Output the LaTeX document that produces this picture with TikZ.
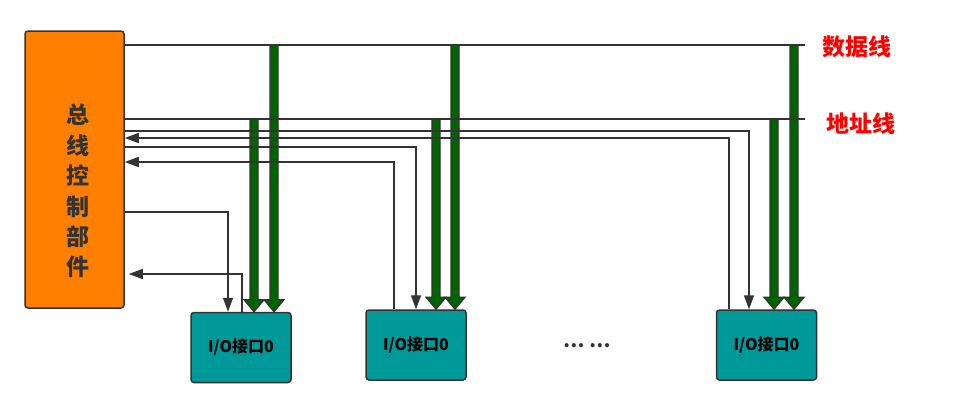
\documentclass[tikz,border=0pt]{standalone}
\usepackage{fontspec}
\setmainfont{Noto Sans CJK SC}
\usepackage{xcolor}
\usetikzlibrary{arrows.meta,calc}
\definecolor{cLine}{RGB}{51,51,51}
\definecolor{cCtrl}{RGB}{255,128,0}
\definecolor{cIO}{RGB}{0,153,153}
\definecolor{cBus}{RGB}{0,100,0}
\definecolor{cLabel}{RGB}{255,0,0}

\begin{document}
\begin{tikzpicture}[x=1pt,y=-1pt,font=\bfseries,
  sig/.style={cLine,line width=1.5pt},
  sigarr/.style={sig,-{Triangle[length=14pt,width=10pt]}},
  bus/.style={fill=cBus,draw=cLine,line width=1.2pt,line join=miter},
  iobox/.style={draw=cLine,line width=1.5pt,fill=cIO,rounded corners=3pt,minimum width=100pt,minimum height=70pt,inner sep=0pt,font=\fontsize{16}{18}\selectfont\bfseries},
  buslabel/.style={text=cLabel,font=\fontsize{23}{26}\selectfont\bfseries}]
\useasboundingbox (0,0) rectangle (965,408);
\node[draw=cLine,line width=1.5pt,fill=cCtrl,rounded corners=3pt,minimum width=99pt,minimum height=277pt] (ctrl) at (74.5,169.5) {};
\node[align=center,text=cLine,font=\fontsize{23}{30.4}\selectfont\bfseries] (ctrltext) at (78,191) {总\\线\\控\\制\\部\\件};
\node[iobox] (io1) at (241,347.5) {I/O接口0};
\node[iobox] (io2) at (416,345) {I/O接口0};
\node[iobox] (io3) at (766.5,345) {I/O接口0};
\node[font=\fontsize{19}{20}\selectfont\bfseries,text=cLine] (dots) at (587,346) {… …};
\coordinate (dataend) at (805,45);
\coordinate (addrend) at (805,119);
\foreach \n/\yy in {w3/131,r3/138,w2/147,r2/162,w1/212,r1/274} \coordinate (\n) at (0,\yy);
\foreach \io/\dx/\top in {io1/13/addrend,io1/33/dataend,io2/20/addrend,io2/39/dataend,io3/7.5/addrend,io3/27.5/dataend}
  \path[bus] let \p1=($(\io.north)+(\dx,0)$), \p2=(\top) in (\x1-4pt,\y2) -- (\x1+4pt,\y2) -- (\x1+4pt,\y1+12pt) -- (\x1+10pt,\y1+12pt) -- (\x1,\y1) -- (\x1-10pt,\y1+12pt) -- (\x1-4pt,\y1+12pt) -- cycle;
\draw[sig] (ctrl.east |- dataend) -- (dataend);
\draw[sig] (ctrl.east |- addrend) -- (addrend);
\draw[sigarr] (ctrl.east |- w3) -| ($(io3.north)+(-17.5,0)$);
\draw[sigarr] ($(io3.north)+(-37.5,0)$) |- (ctrl.east |- r3);
\draw[sigarr] (ctrl.east |- w2) -| (io2.north);
\draw[sigarr] ($(io2.north)+(-22,0)$) |- (ctrl.east |- r2);
\draw[sigarr] (ctrl.east |- w1) -| ($(io1.north)+(-13,0)$);
\draw[sigarr] ($(io1.north)+(1,0)$) |- ($(ctrl.east |- r1)+(4,0)$);
\node[buslabel] (datalbl) at (857,47) {数据线};
\node[buslabel] (addrlbl) at (861,124) {地址线};
\end{tikzpicture}
\end{document}
